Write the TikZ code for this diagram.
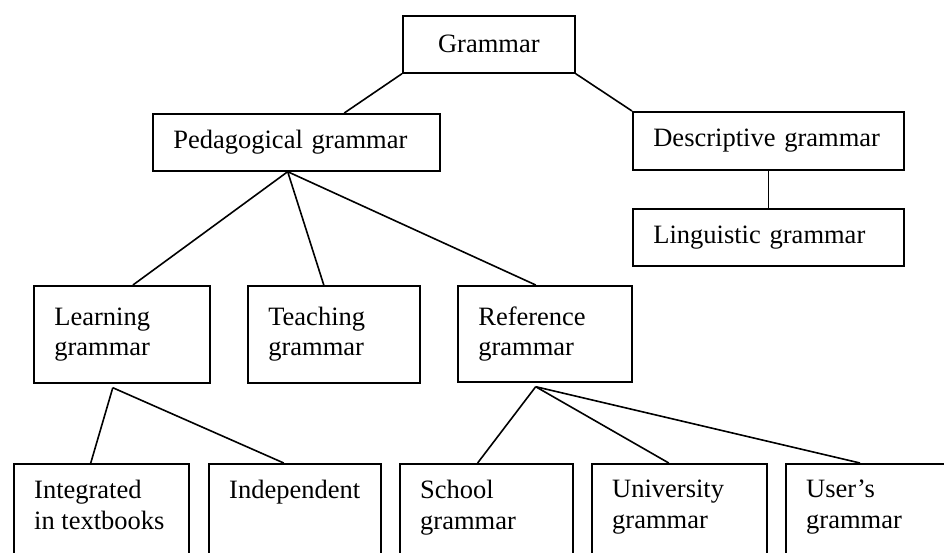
\documentclass[tikz,border=0pt]{standalone}
\usepackage{fontspec}
\setmainfont{Liberation Serif}
\usetikzlibrary{calc}
\begin{document}
\begin{tikzpicture}[x=1pt,y=-1pt,
  txtfont/.style={font=\fontsize{26.5}{30.5}\selectfont},
  box/.style={draw, line width=1.7pt, anchor=north west, inner xsep=20.5pt, inner ysep=0pt, align=left, txtfont},
  conn/.style={line width=1.6pt},
  lbl/.style={anchor=north west, inner sep=0pt, align=left, txtfont, xshift=21pt, yshift=-17pt},
  label distance=0pt]
\path[use as bounding box, clip] (0,0) rectangle (944,553);
\fill[white] (0,0) rectangle (944,553);
% top levels
\node[box, text width=131pt, align=center, minimum height=57pt] (gram) at (402,15) {Grammar};
\node[box, text width=246pt, minimum height=57pt] (ped) at (152,113) {\mbox{Pedagogical grammar}};
\node[box, text width=230pt, minimum height=58pt] (desc) at (632,111) {\mbox{Descriptive grammar}};
\node[box, text width=230pt, minimum height=57pt] (ling) at (632,208) {\mbox{Linguistic grammar}};
% middle row
\node[box, text width=135pt, minimum height=97pt] (learn) at (33,285) {Learning\\grammar};
\node[box, text width=131pt, minimum height=97pt] (teach) at (247,285) {Teaching\\grammar};
\node[box, text width=133pt, minimum height=96pt] (ref) at (457,285) {Reference\\grammar};
% bottom row
\node[box, minimum width=175pt, minimum height=100pt, label={[lbl]north west:{Integrated\\in textbooks}}] (integ) at (13,463) {};
\node[box, minimum width=172pt, minimum height=100pt, label={[lbl]north west:{Independent}}] (indep) at (208,463) {};
\node[box, minimum width=173pt, minimum height=100pt, label={[lbl]north west:{School\\grammar}}] (school) at (399,463) {};
\node[box, minimum width=175pt, minimum height=100pt, label={[lbl]north west:{University\\grammar}}] (univ) at (591,463) {};
\node[box, minimum width=195pt, minimum height=100pt, label={[lbl]north west:{User’s\\grammar}}] (user) at (785,463) {};
% attachment points
\coordinate (pedtop) at ($(ped.north west)!0.666!(ped.north east)$);
\coordinate (pedbot) at ($(ped.south west)!0.47!(ped.south east)$);
\coordinate (lapex) at ([yshift=-4pt]$(learn.south west)!0.449!(learn.south east)$);
\coordinate (rapex) at ([yshift=-4pt]$(ref.south west)!0.448!(ref.south east)$);
% connectors
\draw[conn] (gram.south west) -- (pedtop);
\draw[conn] (gram.south east) -- (desc.north west);
\draw[conn] (desc.south) -- (ling.north);
\draw[conn] (pedbot) -- ($(learn.north west)!0.5625!(learn.north east)$);
\draw[conn] (pedbot) -- ($(teach.north west)!0.442!(teach.north east)$);
\draw[conn] (pedbot) -- ($(ref.north west)!0.448!(ref.north east)$);
\draw[conn] (lapex) -- ($(integ.north west)!0.44!(integ.north east)$);
\draw[conn] (lapex) -- ($(indep.north west)!0.436!(indep.north east)$);
\draw[conn] (rapex) -- ($(school.north west)!0.45!(school.north east)$);
\draw[conn] (rapex) -- ($(univ.north west)!0.44!(univ.north east)$);
\draw[conn] (rapex) -- (user.north west -| {$(user.north west)+(75,0)$});
\end{tikzpicture}
\end{document}
